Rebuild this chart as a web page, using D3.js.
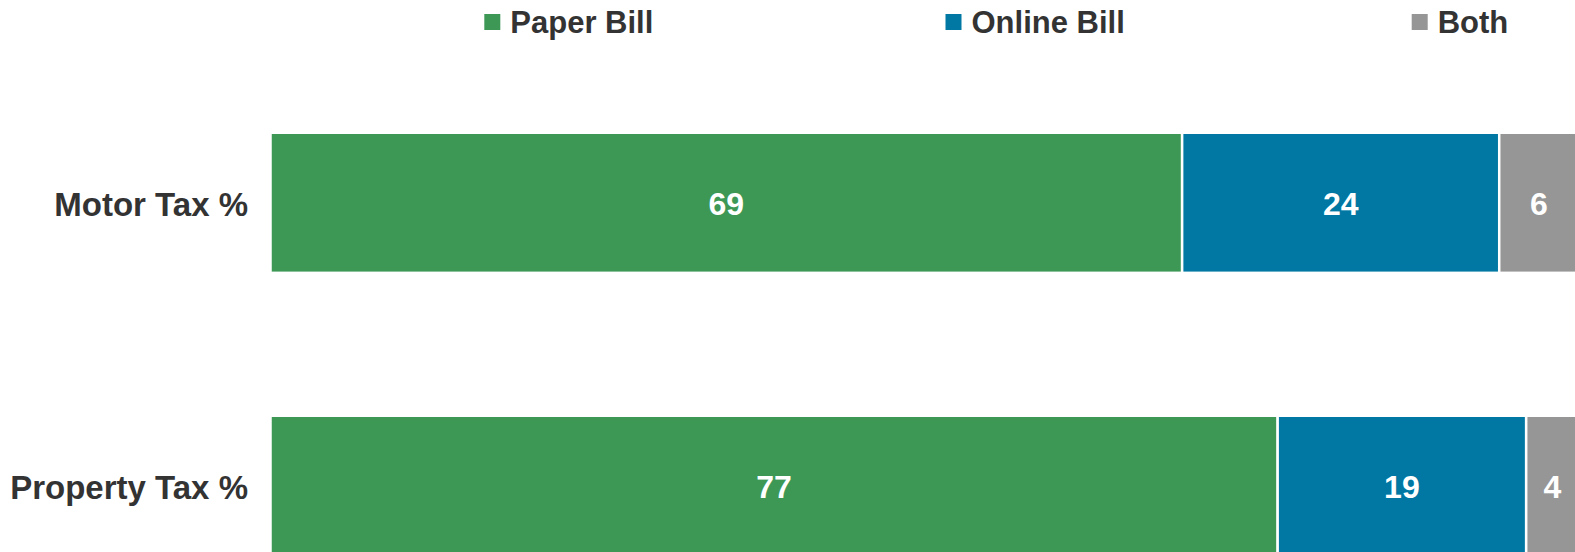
<!DOCTYPE html>
<html>
<head>
<meta charset="utf-8">
<script src="https://cdn.jsdelivr.net/npm/d3@7"></script>
<style>
    body { margin: 0; background: #fff; }
    svg { display: block; overflow: hidden; }
    text { font-family: "Liberation Sans", Arial, sans-serif; font-weight: bold; font-size: 32px; }
</style>
</head>
<body>
<div id="chart"></div>
<script>
// values as printed on the bars (row totals are normalised to 100%)
const categories = ["Motor Tax %", "Property Tax %"];
const seriesNames = ["Paper Bill", "Online Bill", "Both"];
const paperBill = [69, 77];
const onlineBill = [24, 19];
const both = [6, 4];

const colors = ["#3d9856", "#0078a3", "#969696"];
const legendX = [484.3, 945.5, 1411.7];

const width = 1575, height = 552;

let rows = categories.map((c, i) => ({
    category: c,
    "Paper Bill": paperBill[i],
    "Online Bill": onlineBill[i],
    "Both": both[i]
}));

let stacked = d3.stack().keys(seriesNames).offset(d3.stackOffsetExpand)(rows);

let svg = d3.select("#chart").append("svg")
    .attr("width", width).attr("height", height);

// plot runs past the right and bottom edge, like the original export
let x = d3.scaleLinear().domain([0, 1]).range([270.5, 1578.5]);
let y = d3.scaleBand().domain(categories).range([61.3, 627.3])
    .paddingInner(0.505).paddingOuter(0.2525);

let color = d3.scaleOrdinal().domain(seriesNames).range(colors);

let layers = svg.append("g").selectAll("g")
    .data(stacked)
    .join("g")
    .attr("fill", d => color(d.key));

layers.selectAll("rect")
    .data(d => d)
    .join("rect")
    .attr("x", d => x(d[0]))
    .attr("y", d => y(d.data.category))
    .attr("width", d => x(d[1]) - x(d[0]))
    .attr("height", y.bandwidth())
    .attr("stroke", "#fff")
    .attr("stroke-width", 2.5);

layers.selectAll("text")
    .data(d => d.map(v => ({v: v, key: d.key})))
    .join("text")
    .attr("x", d => (x(d.v[0]) + x(d.v[1])) / 2)
    .attr("y", d => y(d.v.data.category) + y.bandwidth() / 2)
    .attr("dy", "0.38em")
    .attr("text-anchor", "middle")
    .attr("fill", "#fff")
    .text(d => d.v.data[d.key]);

// category axis, no line or ticks
let yAxis = svg.append("g")
    .attr("transform", "translate(248,0)")
    .call(d3.axisLeft(y).tickSize(0).tickPadding(0));
yAxis.select(".domain").remove();
yAxis.selectAll("text")
    .attr("fill", "#333")
    .style("font-size", "33px")
    .attr("dy", "0.4em");

// legend across the top
let legend = svg.append("g").selectAll("g")
    .data(seriesNames)
    .join("g")
    .attr("transform", (d, i) => `translate(${legendX[i]}, 0)`);

legend.append("rect")
    .attr("x", 0).attr("y", 14)
    .attr("width", 16).attr("height", 16)
    .attr("fill", d => color(d));

legend.append("text")
    .attr("x", 26).attr("y", 33)
    .attr("fill", "#333")
    .style("font-size", "31px")
    .text(d => d);
</script>
</body>
</html>
